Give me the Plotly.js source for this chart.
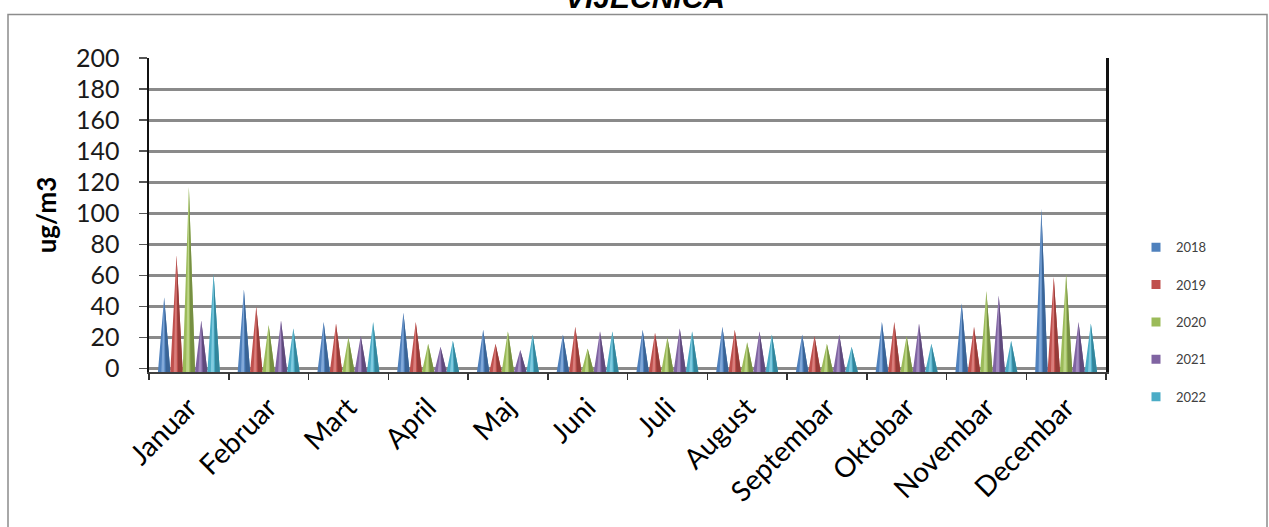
<!DOCTYPE html>
<html>
<head>
<meta charset="utf-8">
<script src="https://cdn.plot.ly/plotly-3.0.1.min.js"></script>
<style>
html,body{margin:0;padding:0;background:#fff;}
#chart{width:1269px;height:527px;}
</style>
</head>
<body>
<div id="chart"></div>
<script>
// ---- data ----
const months = ["Januar","Februar","Mart","April","Maj","Juni","Juli","August","Septembar","Oktobar","Novembar","Decembar"];
const seriesNames = ["2018","2019","2020","2021","2022"];
const v2018 = [46,51,30,36,25,22,25,27,22,30,42,103];
const v2019 = [73,40,29,30,16,27,23,25,21,30,27,59];
const v2020 = [117,28,20,16,24,13,20,17,16,21,50,61];
const v2021 = [31,31,21,14,12,24,26,24,22,29,47,30];
const v2022 = [61,26,30,18,22,24,24,22,14,16,18,29];
const yTicks = [0,20,40,60,80,100,120,140,160,180,200];

// ---- style ----
const seriesValues = [v2018,v2019,v2020,v2021,v2022];
const colors = ["#4F81BD","#C0504D","#9BBB59","#8064A2","#4BACC6"];
const lights = ["#8fb3e0","#e08a87","#c6dc93","#ad97c9","#8fd3e6"];
const darks  = ["#3a6496","#963c39","#768f42","#5f4a7c","#33869c"];
const FLOOR = -2.2;     // y-axis floor where cone bases sit
const STEP = 0.155;     // horizontal offset between series within a month
const W = 0.078;        // cone half-width

function conePolys(vals, off, a, b) {
  const xs = [], ys = [];
  vals.forEach((v, i) => {
    const c = i + off;
    xs.push(c + a * W, c, c + b * W, null);
    ys.push(FLOOR, v, FLOOR, null);
  });
  return {xs, ys};
}

const traces = [];
seriesValues.forEach((vals, s) => {
  const off = (s - 2) * STEP;
  const full = conePolys(vals, off, -1, 1);
  traces.push({type:"scatter", x:full.xs, y:full.ys, mode:"lines", fill:"toself",
    fillcolor:colors[s], line:{width:0, color:colors[s]}, showlegend:false, hoverinfo:"skip"});
  const dk = conePolys(vals, off, 0.25, 1);
  traces.push({type:"scatter", x:dk.xs, y:dk.ys, mode:"lines", fill:"toself",
    fillcolor:darks[s], line:{width:0, color:darks[s]}, showlegend:false, hoverinfo:"skip"});
  const hl = conePolys(vals, off, -0.45, 0.05);
  traces.push({type:"scatter", x:hl.xs, y:hl.ys, mode:"lines", fill:"toself",
    fillcolor:lights[s], opacity:0.8, line:{width:0, color:lights[s]}, showlegend:false, hoverinfo:"skip"});
});
// legend entries
seriesNames.forEach((n, s) => {
  traces.push({type:"scatter", x:[null], y:[null], mode:"markers", name:n, legendgroup:n,
    marker:{symbol:"square", size:9, color:colors[s]}, hoverinfo:"skip"});
});
// invisible trace on second x-axis for boundary ticks
traces.push({type:"scatter", x:[-0.5, 11.5], y:[null, null], xaxis:"x2", mode:"markers",
  showlegend:false, hoverinfo:"skip"});

const boundaries = [];
for (let i = 0; i <= months.length; i++) boundaries.push(i - 0.5);

const plotTop = 57.6, plotBottom = 372, plotLeft = 149, plotRight = 1106;
const pH = plotBottom - plotTop, pW = plotRight - plotLeft;

const layout = {
  width:1269, height:527,
  margin:{l:plotLeft, r:1269-plotRight, t:plotTop, b:527-plotBottom, pad:0},
  paper_bgcolor:"#fff", plot_bgcolor:"#fff",
  font:{family:"Lato, sans-serif", color:"#000"},
  title:{text:"VIJEĆNICA", x:645/1269, xref:"container", xanchor:"center",
    y:(527-8)/527, yref:"container", yanchor:"bottom",
    font:{family:"Liberation Sans, Arial, sans-serif", size:30, weight:"bold", style:"italic", color:"#000"}},
  showlegend:true,
  legend:{x:(1136-plotLeft)/pW, xanchor:"left", y:(plotBottom-232)/pH, yanchor:"top",
    font:{family:"Lato, sans-serif", size:13, color:"#404040"}, tracegroupgap:17.5,
    itemwidth:30, bgcolor:"rgba(0,0,0,0)"},
  xaxis:{range:[-0.5, 11.5], tickmode:"array", tickvals:months.map((m,i)=>i), ticktext:months,
    tickangle:-45, ticks:"", showgrid:false, zeroline:false, showline:true, linecolor:"#404040", linewidth:2,
    tickfont:{family:"Lato, sans-serif", size:28, color:"#000"}, ticklabelstandoff:6, fixedrange:true},
  xaxis2:{range:[-0.5, 11.5], overlaying:"x", side:"bottom", tickmode:"array", tickvals:boundaries,
    showticklabels:false, ticks:"outside", ticklen:7, tickwidth:1.5, tickcolor:"#333",
    showgrid:false, zeroline:false, showline:false, matches:"x"},
  yaxis:{range:[FLOOR, 200], tickmode:"array", tickvals:yTicks, ticktext:yTicks.map(String),
    ticks:"outside", ticklen:8, tickwidth:1.5, tickcolor:"#555",
    showgrid:true, gridcolor:"#8a8a8a", gridwidth:3,
    zeroline:true, zerolinecolor:"#8a8a8a", zerolinewidth:3,
    showline:true, mirror:true, linecolor:"#111", linewidth:2.5,
    tickfont:{family:"Lato, sans-serif", size:25, color:"#1a1a1a"}, ticklabelstandoff:14,
    title:{text:"ug/m3", standoff:12, font:{family:"Lato, sans-serif", size:26, weight:"bold", color:"#000"}}},
  shapes:[{type:"rect", xref:"paper", yref:"paper",
    x0:(8-plotLeft)/pW, x1:(1267-plotLeft)/pW, y0:-(545-plotBottom)/pH, y1:(plotBottom-14)/pH,
    line:{color:"#8c8c8c", width:1.5}, fillcolor:"rgba(0,0,0,0)", layer:"below"}]
};

Plotly.newPlot("chart", traces, layout, {staticPlot:true, displayModeBar:false});
</script>
</body>
</html>
